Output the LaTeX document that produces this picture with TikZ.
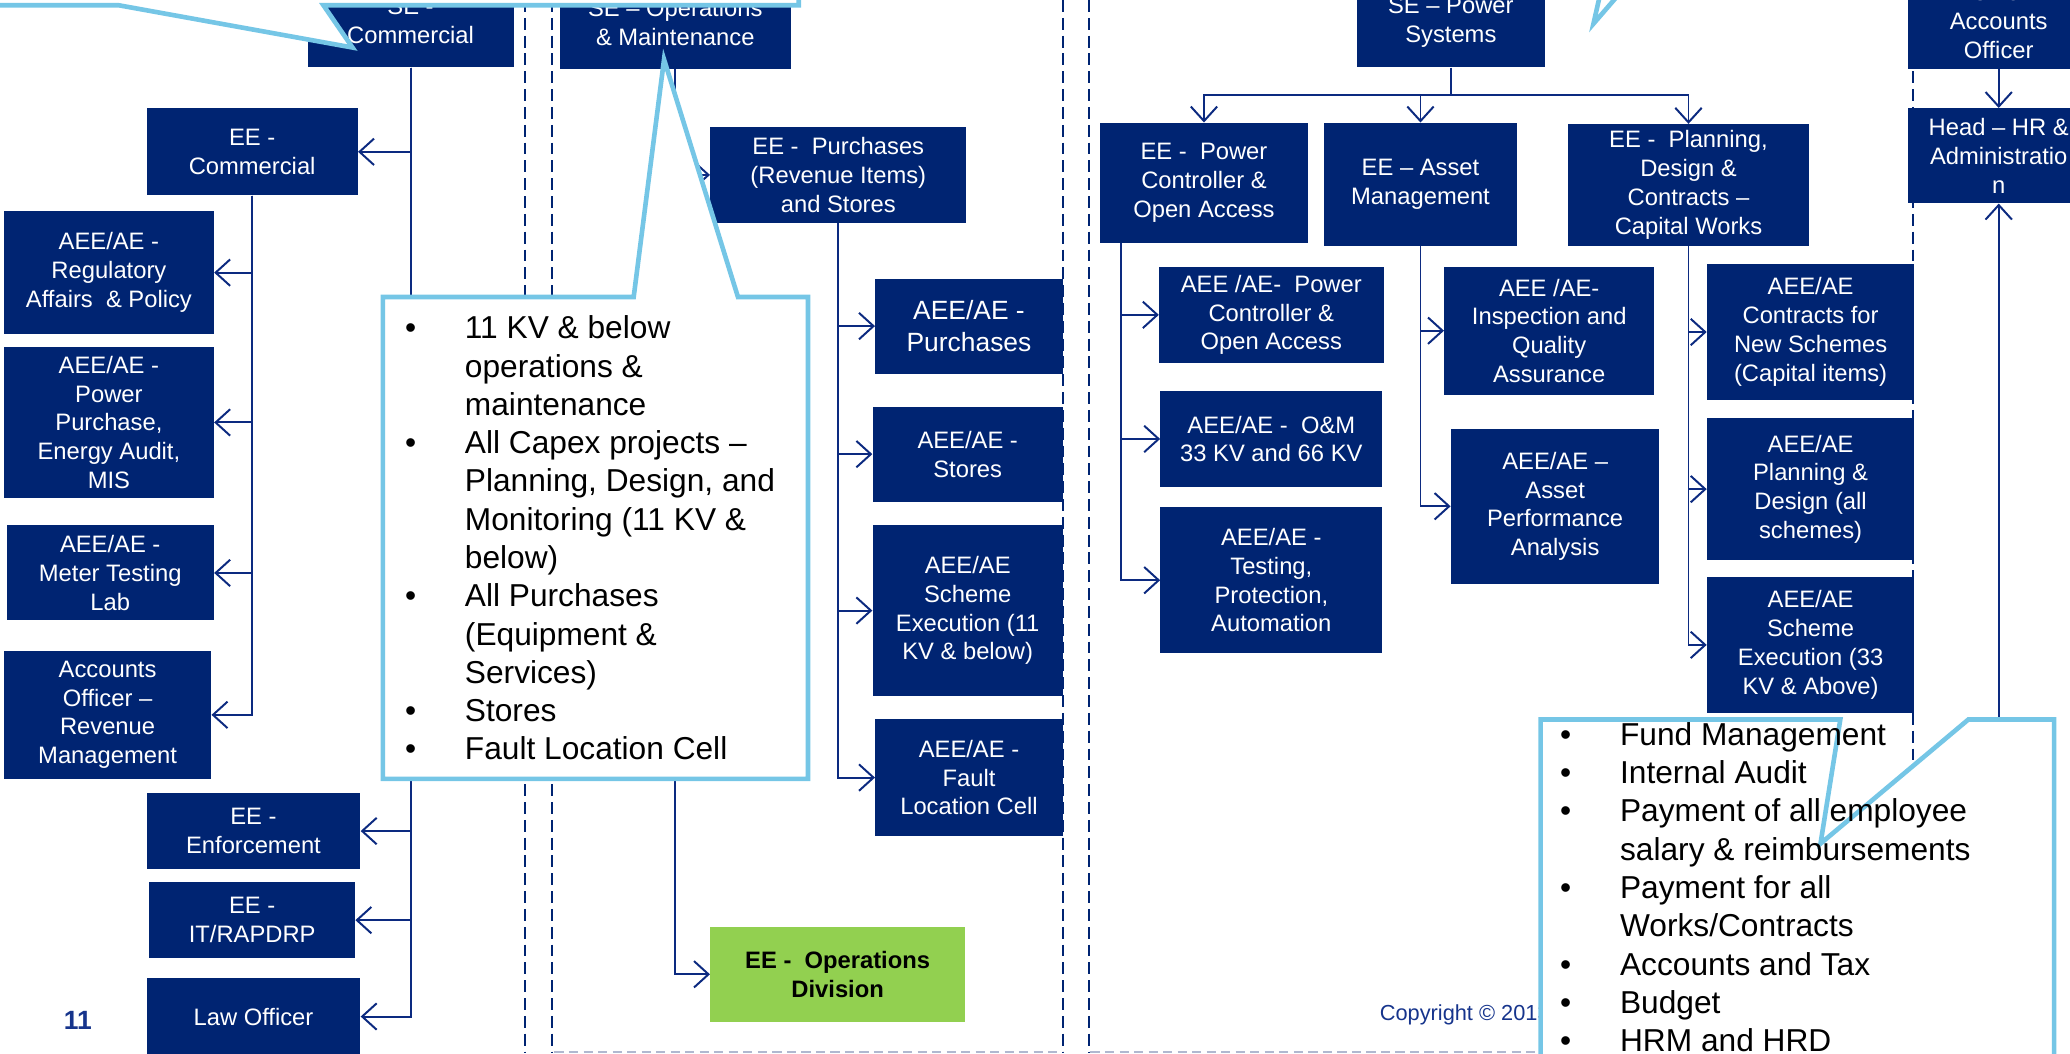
\documentclass[tikz,border=0pt]{standalone}
\usepackage{fontspec}
\setmainfont{Liberation Sans}
\usetikzlibrary{arrows.meta}

\definecolor{unitblue}{RGB}{0,36,114}
\definecolor{linkblue}{RGB}{12,42,128}
\definecolor{calloutblue}{RGB}{117,198,230}
\definecolor{opsgreen}{RGB}{146,208,80}
\definecolor{footgray}{RGB}{176,184,208}
\definecolor{pagenavy}{RGB}{22,52,140}

\newcommand{\notebullet}{\llap{\textbullet\hspace{37pt}}}

\begin{document}
\begin{tikzpicture}[x=1pt, y=-1pt,
  unit/.style={fill=unitblue, text=white, align=center, inner sep=0pt,
    font=\fontsize{18}{21.8}\selectfont},
  opsunit/.style={unit, fill=opsgreen, text=black,
    font=\fontsize{18}{21.8}\selectfont\bfseries},
  trunk/.style={draw=linkblue, line width=1.5pt},
  link/.style={trunk, -{Straight Barb[length=11pt,width=20pt]}},
  divider/.style={draw=unitblue, line width=1.5pt, dash pattern=on 9pt off 4.5pt},
  footline/.style={draw=footgray, line width=1.5pt, dash pattern=on 7pt off 4pt},
  callout/.style={draw=calloutblue, fill=white, line width=3.5pt, line join=miter},
  notes/.style={anchor=north west, align=left, inner sep=0pt,
    font=\fontsize{24}{29}\selectfont},
]
\useasboundingbox (0,0) rectangle (1568,798);
\clip (0,0) rectangle (1568,798);

% section borders
\draw[divider] (398,0) -- (398,798);
\draw[divider] (418,0) -- (418,798);
\draw[divider] (805,0) -- (805,798);
\draw[divider] (825,0) -- (825,798);
\draw[divider] (1449,0) -- (1449,798);
\draw[footline] (420,797) -- (805,797);
\draw[footline] (826,797) -- (1170,797);

% commercial
\node[unit, minimum width=156pt, minimum height=70pt] (secom) at (311,16) {SE -\\Commercial};
\node[unit, minimum width=160pt, minimum height=66pt] (eecom) at (191,115) {EE -\\Commercial};
\node[unit, minimum width=159pt, minimum height=93pt] (regaff) at (82.5,206.5) {AEE/AE -\\Regulatory\\Affairs\ \ \& Policy};
\node[unit, minimum width=159pt, minimum height=114pt] (ppur) at (82.5,320) {AEE/AE -\\Power\\Purchase,\\Energy Audit,\\MIS};
\node[unit, minimum width=157pt, minimum height=72pt] (meter) at (83.5,434) {AEE/AE -\\Meter Testing\\Lab};
\node[unit, minimum width=157pt, minimum height=97pt] (accoff) at (81.5,541.5) {Accounts\\Officer –\\Revenue\\Management};
\node[unit, minimum width=162pt, minimum height=57pt] (enforce) at (192,629.5) {EE -\\Enforcement};
\node[unit, minimum width=156pt, minimum height=58pt] (itrap) at (191,697) {EE -\\IT/RAPDRP};
\node[unit, minimum width=162pt, minimum height=58pt] (lawoff) at (192,770) {Law Officer};

\draw[link] (secom) |- (eecom);
\draw[link] (secom) |- (enforce);
\draw[link] (secom) |- (itrap);
\draw[link] (secom) |- (lawoff);
\draw[link] (eecom) |- (regaff);
\draw[link] (eecom) |- (ppur);
\draw[link] (eecom) |- (meter);
\draw[link] (eecom) |- (accoff);

% operations & maintenance
\node[unit, minimum width=175pt, minimum height=70pt] (seom) at (511.5,17) {SE – Operations\\\& Maintenance};
\node[unit, minimum width=194pt, minimum height=73pt] (eepur) at (635,132.5) {EE -\ \ Purchases\\(Revenue Items)\\and Stores};
\node[unit, minimum width=142pt, minimum height=72pt, font=\fontsize{20}{24}\selectfont] (aepur) at (734,247) {AEE/AE -\\Purchases};
\node[unit, minimum width=144pt, minimum height=72pt] (aestore) at (733,344) {AEE/AE -\\Stores};
\node[unit, minimum width=144pt, minimum height=129pt] (aeexec) at (733,462.5) {AEE/AE\\Scheme\\Execution (11\\KV \& below)};
\node[unit, minimum width=142pt, minimum height=88pt] (aefault) at (734,589) {AEE/AE -\\Fault\\Location Cell};
\node[opsunit, minimum width=193pt, minimum height=72pt] (eeopdiv) at (634.5,738) {EE -\ \ Operations\\Division};

\draw[link] (seom) |- (eepur);
\draw[link] (seom) |- (eeopdiv);
\draw[link] (eepur) |- (aepur);
\draw[link] (eepur) |- (aestore);
\draw[link] (eepur) |- (aeexec);
\draw[link] (eepur) |- (aefault);

% power systems
\node[unit, minimum width=142pt, minimum height=68pt] (sepower) at (1099,17) {SE – Power\\Systems};
\node[unit, minimum width=158pt, minimum height=91pt] (eepc) at (912,138.5) {EE -\ \ Power\\Controller \&\\Open Access};
\node[unit, minimum width=146pt, minimum height=93pt] (eeasset) at (1076,139.5) {EE – Asset\\Management};
\node[unit, minimum width=182pt, minimum height=92pt] (eeplan) at (1279,140) {EE -\ \ Planning,\\Design \&\\Contracts –\\Capital Works};
\node[unit, minimum width=170pt, minimum height=73pt] (aepc) at (963,238.5) {AEE /AE-\ \ Power\\Controller \&\\Open Access};
\node[unit, minimum width=168pt, minimum height=73pt] (aeom) at (963,332.5) {AEE/AE -\ \ O\&M\\33 KV and 66 KV};
\node[unit, minimum width=168pt, minimum height=111pt] (aetest) at (963,439.5) {AEE/AE -\\Testing,\\Protection,\\Automation};
\node[unit, minimum width=159pt, minimum height=97pt] (aeinsp) at (1173.5,250.5) {AEE /AE-\\Inspection and\\Quality\\Assurance};
\node[unit, minimum width=158pt, minimum height=117pt] (aeperf) at (1178,383.5) {AEE/AE –\\Asset\\Performance\\Analysis};
\node[unit, minimum width=157pt, minimum height=103pt] (aecont) at (1371.5,251.5) {AEE/AE\\Contracts for\\New Schemes\\(Capital items)};
\node[unit, minimum width=157pt, minimum height=107pt] (aeplandes) at (1371.5,370.5) {AEE/AE\\Planning \&\\Design (all\\schemes)};
\node[unit, minimum width=157pt, minimum height=103pt] (aeexec33) at (1371.5,488.5) {AEE/AE\\Scheme\\Execution (33\\KV \& Above)};

\coordinate (psfork) at (1099,72);
\draw[trunk] (sepower) -- (psfork);
\draw[link] (psfork) -| (eepc);
\draw[link] (psfork) -| (eeasset);
\draw[link] (psfork) -| (eeplan);
\draw[link] ([xshift=16pt]eepc.south west) |- (aepc);
\draw[link] ([xshift=16pt]eepc.south west) |- (aeom);
\draw[link] ([xshift=16pt]eepc.south west) |- (aetest);
\draw[link] (eeasset) |- (aeinsp);
\draw[link] (eeasset) |- (aeperf);
\draw[link] (eeplan) |- (aecont);
\draw[link] (eeplan) |- (aeplandes);
\draw[link] (eeplan) |- (aeexec33);

% accounts
\node[unit, minimum width=138pt, minimum height=72pt] (chiefacc) at (1514,16) {Chief\\Accounts\\Officer};
\node[unit, minimum width=138pt, minimum height=72pt] (headhr) at (1514,118) {Head – HR \&\\Administratio\\n};
\coordinate (hrfeed) at (1514,640);
\draw[link] (chiefacc) -- (headhr);
\draw[link] (hrfeed) -- (headhr);

% footer
\node[text=pagenavy, font=\fontsize{20}{24}\selectfont\bfseries] (slideno) at (59,773) {11};
\node[anchor=west, inner sep=0pt, text=pagenavy, font=\fontsize{16.5}{19}\selectfont] (copyline) at (1045,769) {Copyright © 2013};

% callouts
\draw[callout] (-20,-60) -- (-20,4) -- (90,4) -- (267,36) -- (245,4) -- (605,4) -- (605,-60) -- cycle;
\draw[callout] (1150,-60) -- (1150,-4) -- (1212,-4) -- (1207,18) -- (1226,-4) -- (1300,-4) -- (1300,-60) -- cycle;
\draw[callout] (290,225) -- (480,225) -- (503,45) -- (559,225) -- (612,225) -- (612,590) -- (290,590) -- cycle;
\draw[callout] (1167,545) -- (1394,545) -- (1379,639) -- (1491,545) -- (1556,545) -- (1556,820) -- (1167,820) -- cycle;

\node[notes] (omnotes) at (352,239) {\notebullet 11 KV \& below\\operations \&\\maintenance\\
  \notebullet All Capex projects –\\Planning, Design, and\\Monitoring (11 KV \&\\below)\\
  \notebullet All Purchases\\(Equipment \&\\Services)\\
  \notebullet Stores\\
  \notebullet Fault Location Cell};
\node[notes] (accnotes) at (1227,547) {\notebullet Fund Management\\
  \notebullet Internal Audit\\
  \notebullet Payment of all employee\\salary \& reimbursements\\
  \notebullet Payment for all\\Works/Contracts\\
  \notebullet Accounts and Tax\\
  \notebullet Budget\\
  \notebullet HRM and HRD};
\end{tikzpicture}
\end{document}
